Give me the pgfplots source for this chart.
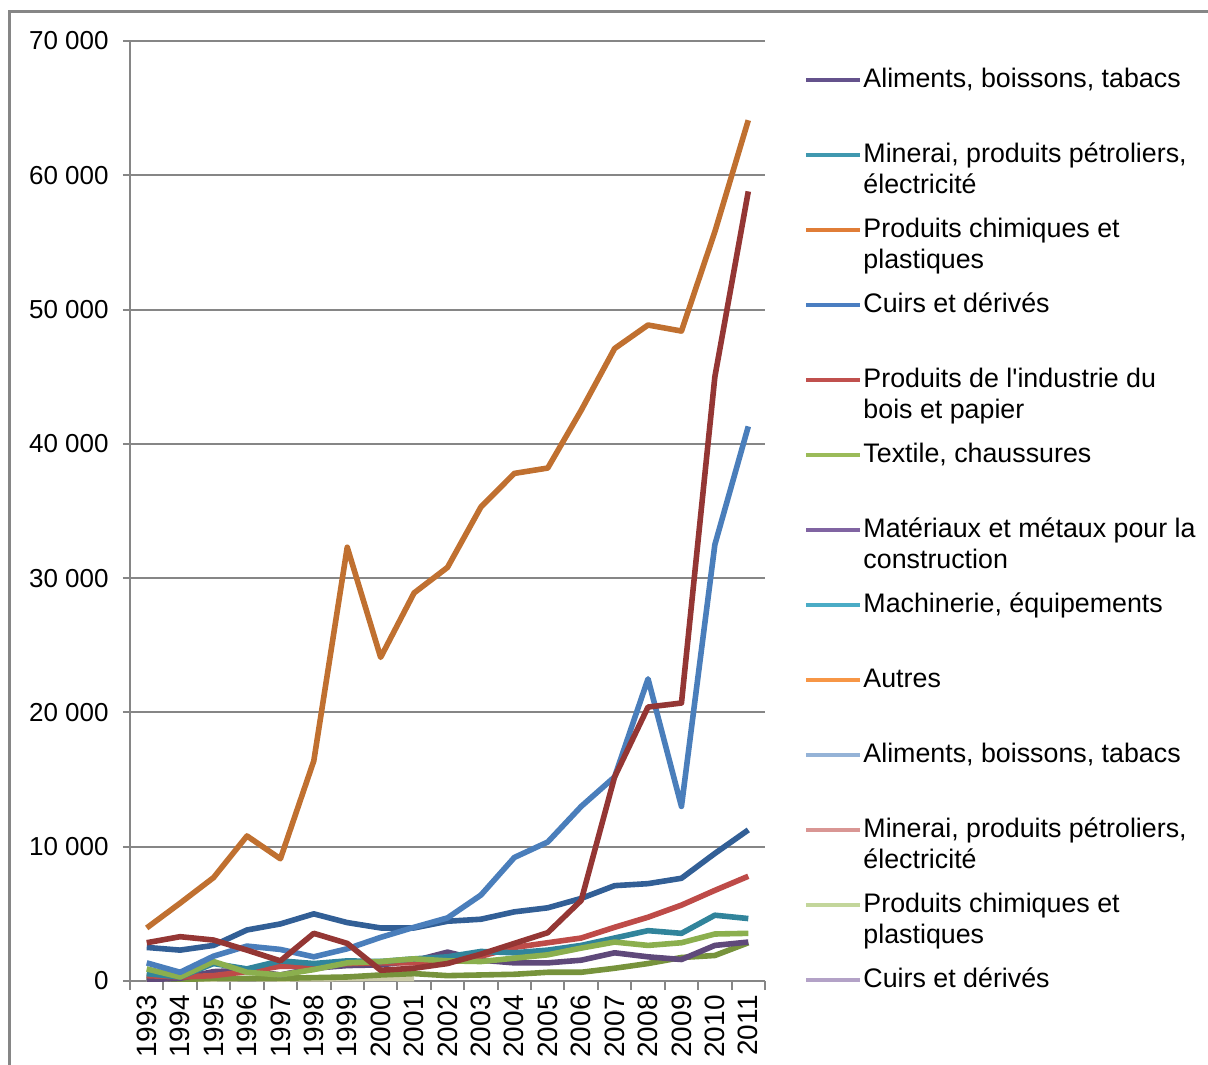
\documentclass[border=0pt]{standalone}
\usepackage{pgfplots}
\pgfplotsset{compat=1.18}
\usepackage{fontspec}
\setmainfont{Liberation Sans}

\definecolor{gridgray}{RGB}{134,134,134}
% plotted lines
\definecolor{cOrange}{RGB}{192,112,48}
\definecolor{cDarkRed}{RGB}{148,54,52}
\definecolor{cMidBlue}{RGB}{74,126,187}
\definecolor{cDarkBlue}{RGB}{50,95,150}
\definecolor{cRed}{RGB}{190,75,72}
\definecolor{cTeal}{RGB}{49,132,155}
\definecolor{cLGreen}{RGB}{139,175,78}
\definecolor{cPurple}{RGB}{95,73,122}
\definecolor{cOlive}{RGB}{119,147,60}
\definecolor{cBeige}{RGB}{205,205,170}
% legend swatches
\definecolor{lA}{RGB}{100,82,140}
\definecolor{lB}{RGB}{64,152,175}
\definecolor{lC}{RGB}{224,125,55}
\definecolor{lD}{RGB}{74,126,193}
\definecolor{lE}{RGB}{192,80,77}
\definecolor{lF}{RGB}{155,187,89}
\definecolor{lG}{RGB}{128,100,162}
\definecolor{lH}{RGB}{75,172,198}
\definecolor{lI}{RGB}{247,150,70}
\definecolor{lJ}{RGB}{149,179,215}
\definecolor{lK}{RGB}{217,150,148}
\definecolor{lL}{RGB}{195,214,155}
\definecolor{lM}{RGB}{179,162,199}

% legend text: zero-height box, the row pitch comes from the legend image
\newcommand\lt[1]{\smash{\parbox[t]{200pt}{#1}}}

\begin{document}
\begin{tikzpicture}
\useasboundingbox (-65pt,-41.5pt) rectangle (539pt,490.5pt);
\draw[color=gridgray, line width=1.5pt] (-60pt,-60pt) rectangle (560pt,484.5pt);
\begin{axis}[
  scale only axis, width=317.5pt, height=470pt,
  xmin=-0.5, xmax=18.5, ymin=0, ymax=70000,
  axis x line*=bottom, axis y line*=left,
  axis line style={color=gridgray, line width=1pt},
  xtick={0,...,18},
  xticklabels={1993,1994,1995,1996,1997,1998,1999,2000,2001,2002,2003,2004,2005,2006,2007,2008,2009,2010,2011},
  major x tick style={draw=none},
  minor xtick={-0.5,0.5,...,18.5},
  minor x tick style={color=gridgray, line width=1pt},
  minor tick length=4.5pt,
  ytick={0,10000,...,70000},
  major tick length=3.5pt,
  y tick style={color=gridgray, line width=1pt},
  tick align=outside,
  ymajorgrids, major grid style={color=gridgray, line width=1pt},
  scaled y ticks=false,
  /pgf/number format/1000 sep={\ },
  /pgf/number format/assume math mode=true,
  yticklabel style={anchor=east, inner sep=0pt, font=\fontsize{13}{15}\selectfont},
  yticklabel shift=7pt,
  xticklabel style={rotate=90, anchor=east, inner sep=0pt, font=\fontsize{14}{16}\selectfont},
  xticklabel shift=3.5pt,
  legend cell align=left,
  legend style={at={(axis description cs:1.0615,0.9724)}, anchor=north west,
    draw=none, fill=none, inner sep=0pt, row sep=0pt, column sep=0.5pt,
    nodes={inner sep=0pt}, font=\fontsize{13.4}{15.5}\selectfont},
  legend image code/.code={
    \path[draw=none, fill=none] (0pt,-26.5pt) rectangle (27pt,11pt);
    \draw[#1, line width=2pt] (0pt,4.8pt) -- (27pt,4.8pt);},
  every axis plot/.append style={line width=2.8pt, line join=round, no markers},
]
\addlegendimage{color=lA}\addlegendentry{\lt{Aliments, boissons, tabacs}}
\addlegendimage{color=lB}\addlegendentry{\lt{Minerai, produits pétroliers,\\électricité}}
\addlegendimage{color=lC}\addlegendentry{\lt{Produits chimiques et\\plastiques}}
\addlegendimage{color=lD}\addlegendentry{\lt{Cuirs et dérivés}}
\addlegendimage{color=lE}\addlegendentry{\lt{Produits de l\textquotesingle industrie du\\bois et papier}}
\addlegendimage{color=lF}\addlegendentry{\lt{Textile, chaussures}}
\addlegendimage{color=lG}\addlegendentry{\lt{Matériaux et métaux pour la\\construction}}
\addlegendimage{color=lH}\addlegendentry{\lt{Machinerie, équipements}}
\addlegendimage{color=lI}\addlegendentry{\lt{Autres}}
\addlegendimage{color=lJ}\addlegendentry{\lt{Aliments, boissons, tabacs}}
\addlegendimage{color=lK}\addlegendentry{\lt{Minerai, produits pétroliers,\\électricité}}
\addlegendimage{color=lL}\addlegendentry{\lt{Produits chimiques et\\plastiques}}
\addlegendimage{color=lM}\addlegendentry{\lt{Cuirs et dérivés}}

\addplot[forget plot, color=cBeige] coordinates {(0,150)(1,120)(2,150)(3,180)(4,150)(5,160)(6,180)(7,200)(8,180)};
\addplot[forget plot, color=cOlive] coordinates {(0,300)(1,100)(2,200)(3,200)(4,200)(5,250)(6,300)(7,450)(8,550)(9,400)(10,450)(11,500)(12,650)(13,650)(14,950)(15,1300)(16,1750)(17,1900)(18,2850)};
\addplot[forget plot, color=cPurple] coordinates {(0,100)(1,200)(2,700)(3,800)(4,450)(5,950)(6,1150)(7,1200)(8,1500)(9,2150)(10,1550)(11,1350)(12,1350)(13,1550)(14,2100)(15,1800)(16,1600)(17,2650)(18,2900)};
\addplot[forget plot, color=cRed] coordinates {(0,400)(1,300)(2,400)(3,700)(4,1100)(5,1100)(6,1300)(7,1350)(8,1350)(9,1500)(10,1850)(11,2500)(12,2850)(13,3200)(14,4000)(15,4750)(16,5650)(17,6750)(18,7800)};
\addplot[forget plot, color=cTeal] coordinates {(0,550)(1,300)(2,1300)(3,900)(4,1500)(5,1300)(6,1500)(7,1450)(8,1650)(9,1800)(10,2200)(11,2100)(12,2300)(13,2650)(14,3200)(15,3750)(16,3550)(17,4900)(18,4650)};
\addplot[forget plot, color=cLGreen] coordinates {(0,900)(1,300)(2,1450)(3,650)(4,450)(5,850)(6,1350)(7,1450)(8,1650)(9,1500)(10,1450)(11,1700)(12,1950)(13,2450)(14,2900)(15,2650)(16,2850)(17,3500)(18,3550)};
\addplot[forget plot, color=cDarkBlue] coordinates {(0,2500)(1,2300)(2,2650)(3,3800)(4,4250)(5,5000)(6,4350)(7,3950)(8,3950)(9,4450)(10,4600)(11,5150)(12,5450)(13,6150)(14,7100)(15,7250)(16,7650)(17,9500)(18,11250)};
\addplot[forget plot, color=cMidBlue] coordinates {(0,1350)(1,650)(2,1850)(3,2600)(4,2350)(5,1800)(6,2400)(7,3250)(8,4000)(9,4700)(10,6400)(11,9200)(12,10350)(13,13000)(14,15200)(15,22500)(16,13000)(17,32500)(18,41300)};
\addplot[forget plot, color=cDarkRed] coordinates {(0,2850)(1,3300)(2,3050)(3,2300)(4,1500)(5,3550)(6,2800)(7,800)(8,950)(9,1300)(10,2000)(11,2800)(12,3600)(13,6000)(14,15200)(15,20400)(16,20700)(17,45000)(18,58800)};
\addplot[forget plot, color=cOrange] coordinates {(0,3950)(1,5800)(2,7700)(3,10800)(4,9100)(5,16400)(6,32300)(7,24100)(8,28900)(9,30800)(10,35300)(11,37800)(12,38200)(13,42500)(14,47100)(15,48850)(16,48400)(17,55800)(18,64100)};
\end{axis}
\end{tikzpicture}
\end{document}
